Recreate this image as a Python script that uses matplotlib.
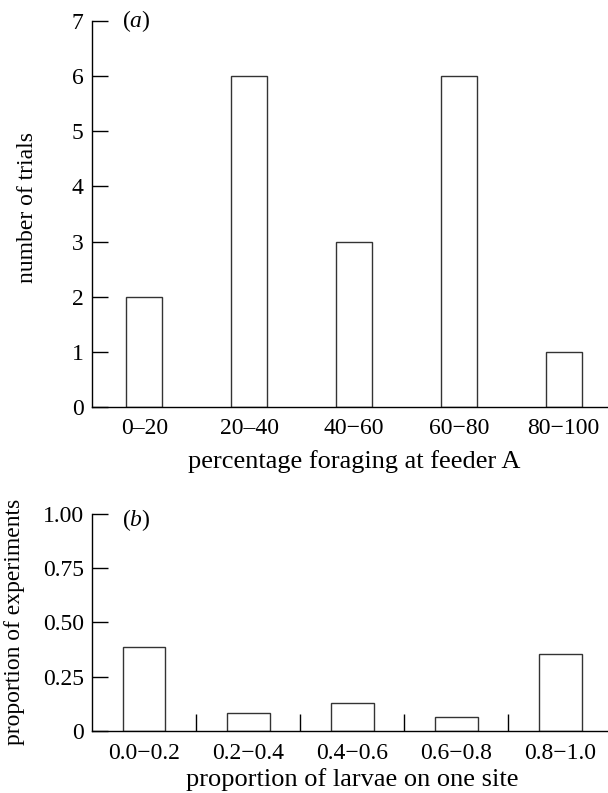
import matplotlib
matplotlib.use("Agg")
import matplotlib.pyplot as plt
import numpy as np

plt.rcParams['font.family'] = ['Liberation Serif', 'DejaVu Serif']
plt.rcParams['mathtext.fontset'] = 'custom'
plt.rcParams['mathtext.rm'] = 'Liberation Serif'
plt.rcParams['mathtext.it'] = 'Liberation Serif:italic'

# ---- data ----
cats_a = ["0–20", "20–40", "40−60", "60−80", "80−100"]
trials_a = [2, 6, 3, 6, 1]
yticks_a = [0, 1, 2, 3, 4, 5, 6, 7]

cats_b = ["0.0−0.2", "0.2−0.4", "0.4−0.6", "0.6−0.8", "0.8−1.0"]
prop_b = [0.387, 0.083, 0.128, 0.063, 0.355]
yticks_b = [0, 0.25, 0.50, 0.75, 1.00]
yticklabels_b = ["0", "0.25", "0.50", "0.75", "1.00"]

TICK_FS = 17
XLAB_FS = 19
YLAB_FS = 17
EDGE = "#333333"
W = 608; H = 793

fig = plt.figure(figsize=(W / 100, H / 100), dpi=100)

# ---- panel (a) ----
ax1 = fig.add_axes([92 / W, 1 - 407 / H, 524 / W, 386 / H])
xa = np.arange(len(cats_a))
ax1.bar(xa, trials_a, width=0.345, facecolor="white", edgecolor=EDGE, linewidth=1.0)
ax1.set_xlim(-0.5, len(cats_a) - 0.5)
ax1.set_ylim(0, 7)
ax1.set_yticks(yticks_a)
ax1.set_xticks(xa)
ax1.set_xticklabels(cats_a)
ax1.tick_params(axis='x', length=0, pad=8, labelsize=TICK_FS)
ax1.tick_params(axis='y', direction='in', length=11.5, width=1.0, pad=6, labelsize=TICK_FS)
for s in ['top', 'right']:
    ax1.spines[s].set_visible(False)
for s in ['left', 'bottom']:
    ax1.spines[s].set_linewidth(1.0)
ax1.set_xlabel("percentage foraging at feeder A", fontsize=XLAB_FS, labelpad=8)
ax1.set_ylabel("number of trials", fontsize=YLAB_FS)
ax1.yaxis.set_label_coords(-0.103, 0.517)
ax1.text(0.057, 1.0, "($\\mathit{a}$)", transform=ax1.transAxes, fontsize=TICK_FS,
         ha='left', va='center')

# ---- panel (b) ----
ax2 = fig.add_axes([92 / W, 1 - 730.7 / H, 520.6 / W, 216.7 / H])
xb = np.arange(len(cats_b))
ax2.bar(xb, prop_b, width=0.41, facecolor="white", edgecolor=EDGE, linewidth=1.0)
ax2.set_xlim(-0.5, len(cats_b) - 0.5)
ax2.set_ylim(0, 1.0)
ax2.set_yticks(yticks_b)
ax2.set_yticklabels(yticklabels_b)
ax2.set_xticks(xb)
ax2.set_xticklabels(cats_b)
ax2.set_xticks(xb[:-1] + 0.5, minor=True)
ax2.tick_params(axis='x', which='major', length=0, pad=8.5, labelsize=TICK_FS)
ax2.tick_params(axis='x', which='minor', direction='in', length=12, width=1.0)
ax2.tick_params(axis='y', direction='in', length=11.5, width=1.0, pad=6, labelsize=TICK_FS)
for s in ['top', 'right']:
    ax2.spines[s].set_visible(False)
for s in ['left', 'bottom']:
    ax2.spines[s].set_linewidth(1.0)
ax2.set_xlabel("proportion of larvae on one site", fontsize=XLAB_FS, labelpad=3.5)
ax2.set_ylabel("proportion of experiments", fontsize=YLAB_FS)
ax2.yaxis.set_label_coords(-0.129, 0.5)
ax2.text(0.057, 0.972, "($\\mathit{b}$)", transform=ax2.transAxes, fontsize=TICK_FS,
         ha='left', va='center')

fig.savefig("out.png", dpi=100)
